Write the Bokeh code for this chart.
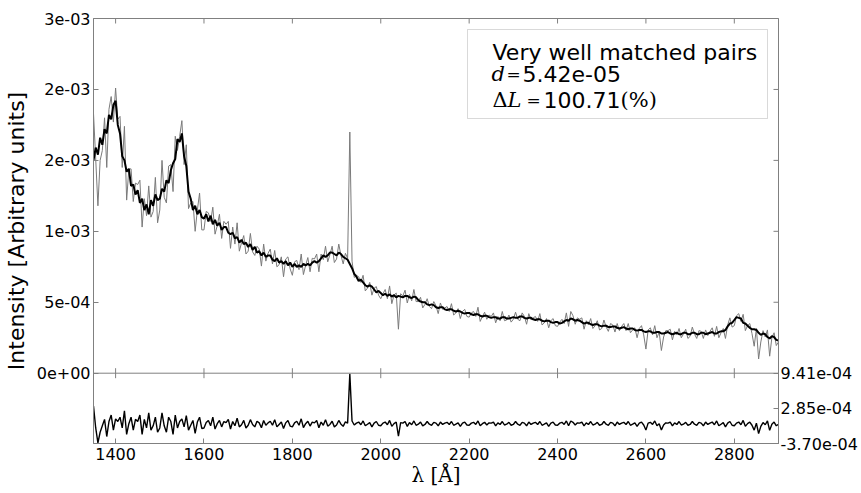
import math
from bokeh.plotting import figure
from bokeh.models import (Range1d, LinearAxis, FixedTicker, CustomJSTickFormatter,
                          Span, BoxAnnotation, Label, ColumnDataSource)
from bokeh.embed import file_html
from bokeh.resources import INLINE

# ---------------- data (flux in units of 1e-4), sampled every 5 Angstrom ----------------
flux_unit = 1e-4
wavelength = list(range(1350, 2901, 5))

black_flux = [
    15.0, 15.9, 15.4, 16.6, 16.1, 17.2, 16.9, 18.2, 17.9, 18.9,
    19.2, 17.5, 16.9, 15.3, 15.0, 14.2, 14.4, 13.2, 13.3, 12.6,
    12.9, 12.0, 12.3, 11.5, 11.9, 11.2, 12.2, 11.8, 12.6, 12.2,
    12.3, 13.0, 12.8, 13.6, 13.4, 14.3, 14.8, 15.1, 16.5, 16.3,
    16.9, 15.3, 14.6, 12.8, 12.3, 11.5, 11.8, 11.2, 11.5, 11.0,
    10.9, 11.2, 10.7, 11.1, 10.5, 10.8, 10.4, 10.6, 10.1, 10.3,
    10.3, 9.9, 9.8, 9.9, 9.5, 9.6, 9.2, 9.4, 9.1, 9.2,
    8.9, 9.1, 8.7, 8.9, 8.5, 8.6, 8.3, 8.5, 8.2, 8.3,
    8.3, 8.0, 7.9, 8.1, 7.8, 7.9, 7.7, 7.9, 7.6, 7.8,
    7.5, 7.7, 7.5, 7.6, 7.5, 7.7, 7.6, 7.7, 7.6, 7.8,
    7.9, 7.8, 7.9, 8.1, 8.3, 8.2, 8.3, 8.5, 8.5, 8.4,
    8.3, 8.5, 8.4, 8.2, 8.1, 8.0, 7.7, 7.4, 7.0, 6.8,
    6.5, 6.6, 6.4, 6.2, 6.1, 6.2, 6.1, 5.9, 5.7, 5.8,
    5.65, 5.5, 5.6, 5.45, 5.55, 5.4, 5.5, 5.35, 5.45, 5.4,
    5.35, 5.45, 5.45, 5.35, 5.3, 5.4, 5.35, 5.15, 5.05, 5.0,
    5.0, 4.85, 4.8, 4.85, 4.8, 4.65, 4.6, 4.65, 4.65, 4.5,
    4.45, 4.5, 4.5, 4.4, 4.35, 4.4, 4.35, 4.25, 4.2, 4.25,
    4.25, 4.15, 4.1, 4.15, 4.15, 4.05, 4.0, 4.05, 4.05, 3.95,
    3.9, 3.95, 3.95, 3.85, 3.85, 3.95, 3.95, 3.85, 3.85, 3.9,
    3.95, 3.9, 3.9, 4.0, 4.0, 3.9, 3.85, 3.9, 3.9, 3.8,
    3.75, 3.8, 3.8, 3.7, 3.65, 3.7, 3.7, 3.6, 3.55, 3.6,
    3.6, 3.5, 3.55, 3.65, 3.75, 3.7, 3.85, 3.8, 3.7, 3.75,
    3.7, 3.6, 3.5, 3.55, 3.55, 3.45, 3.4, 3.45, 3.45, 3.35,
    3.3, 3.35, 3.35, 3.25, 3.25, 3.3, 3.3, 3.2, 3.15, 3.2,
    3.25, 3.15, 3.1, 3.15, 3.15, 3.05, 3.0, 3.05, 3.05, 2.95,
    2.9, 2.95, 2.95, 2.85, 2.85, 2.9, 2.9, 2.8, 2.8, 2.85,
    2.9, 2.8, 2.75, 2.8, 2.85, 2.75, 2.75, 2.85, 2.85, 2.75,
    2.75, 2.85, 2.85, 2.75, 2.75, 2.85, 2.85, 2.75, 2.8, 2.85,
    2.9, 2.8, 2.8, 2.9, 2.95, 2.95, 3.05, 3.3, 3.5, 3.55,
    3.75, 3.95, 3.9, 3.85, 3.55, 3.5, 3.35, 3.2, 3.1, 3.1,
    3.05, 2.85, 2.7, 2.8, 2.75, 2.55, 2.45, 2.6, 2.55, 2.35,
    2.3,
]

gray_flux = [
    18.3, 15.1, 11.8, 15.0, 15.7, 18.0, 14.5, 18.6, 19.5, 17.7,
    20.1, 17.9, 18.1, 14.5, 17.4, 12.2, 14.4, 14.4, 12.1, 13.4,
    13.3, 13.6, 10.3, 12.3, 11.1, 13.2, 11.0, 11.4, 13.8, 10.6,
    11.5, 15.0, 12.4, 12.0, 14.6, 14.7, 12.8, 16.7, 15.7, 16.7,
    17.8, 14.7, 16.1, 11.6, 12.0, 12.1, 10.0, 11.5, 12.7, 10.1,
    10.1, 11.4, 11.3, 10.7, 11.7, 9.8, 10.4, 11.2, 9.5, 10.7,
    10.5, 10.7, 8.8, 10.3, 9.1, 10.6, 8.6, 9.2, 9.7, 8.4,
    8.6, 9.85, 8.55, 8.3, 8.95, 8.75, 7.55, 9.1, 7.9, 8.45,
    8.75, 7.7, 8.65, 7.5, 7.65, 8.2, 6.8, 8.05, 8.2, 7.35,
    6.9, 7.85, 7.95, 7.3, 8.4, 6.95, 7.6, 8.15, 7.15, 8.1,
    8.05, 8.4, 7.15, 8.4, 8.0, 8.95, 7.85, 8.35, 8.95, 7.8,
    8.05, 9.1, 8.3, 7.7, 8.45, 8.1, 17.0, 7.9, 6.75, 6.9,
    6.8, 6.4, 6.9, 5.8, 6.0, 6.4, 5.5, 6.0, 6.1, 5.5,
    5.25, 5.6, 5.9, 5.25, 6.15, 4.9, 5.5, 5.65, 3.1, 5.6,
    5.45, 5.85, 4.95, 5.55, 5.1, 5.9, 5.05, 5.05, 5.35, 4.6,
    4.85, 5.25, 4.7, 4.55, 5.05, 4.75, 4.2, 4.95, 4.5, 4.6,
    4.7, 4.35, 4.9, 4.1, 4.25, 4.55, 3.85, 4.35, 4.5, 4.0,
    3.95, 4.25, 4.35, 4.0, 4.65, 3.65, 4.0, 4.3, 3.8, 4.1,
    4.0, 4.25, 3.55, 4.0, 3.7, 4.35, 3.7, 3.75, 4.1, 3.6,
    3.8, 4.3, 3.8, 3.7, 4.25, 4.0, 3.45, 4.2, 3.75, 3.9,
    4.0, 3.65, 4.2, 3.4, 3.55, 3.85, 3.2, 3.7, 3.85, 3.35,
    3.3, 3.6, 3.8, 3.5, 4.25, 3.3, 4.35, 4.05, 3.45, 3.9,
    3.8, 3.9, 3.1, 3.7, 3.4, 3.85, 3.15, 3.35, 3.7, 3.05,
    3.15, 3.75, 3.25, 2.95, 3.5, 3.4, 2.9, 3.5, 3.0, 3.3,
    3.5, 3.0, 3.5, 2.85, 3.05, 3.2, 2.5, 3.15, 3.35, 2.7,
    1.7, 3.05, 3.2, 2.7, 3.35, 2.5, 2.9, 1.6, 2.55, 3.0,
    3.0, 3.1, 2.35, 2.95, 2.7, 3.15, 2.5, 2.75, 3.1, 2.45,
    2.6, 3.25, 2.75, 2.45, 3.0, 2.95, 2.45, 3.05, 2.65, 2.95,
    3.2, 2.6, 3.3, 2.5, 2.85, 3.15, 2.45, 3.4, 3.9, 3.25,
    3.35, 4.05, 4.2, 3.65, 4.15, 3.0, 3.35, 3.5, 2.8, 1.9,
    3.15, 1.0, 2.2, 3.0, 2.55, 3.05, 1.2, 2.5, 2.85, 1.95,
    2.2,
]

x_ticks = [1400, 1600, 1800, 2000, 2200, 2400, 2600, 2800]
y_ticks = [0.0, 5e-4, 1e-3, 1.5e-3, 2e-3, 2.5e-3]
y_tick_labels = ["0e+00", "5e-04", "1e-03", "2e-03", "2e-03", "3e-03"]
resid_ticks = [-3.70e-4, 2.85e-4, 9.41e-4]
resid_tick_labels = ["-3.70e-04", "2.85e-04", "9.41e-04"]

legend_title = "Very well matched pairs"
d_value = "5.42e-05"
dl_value = "100.71"

# ---------------- derived series ----------------
black_y = [v * flux_unit for v in black_flux]
gray_y = [v * flux_unit for v in gray_flux]
resid_y = [(g - b) * flux_unit for g, b in zip(gray_flux, black_flux)]

# ---------------- layout geometry ----------------
W, H = 861, 493
FL, FR, FT, FB = 93, 778, 18, 443       # frame edges in px
SEP = 372.7                             # separator between panels (px)
X0, X1 = 1350, 2900
Y1 = 2.5e-3
Y0 = -Y1 * (FB - SEP) / (SEP - FT)
R0, RTOP = resid_ticks[0], resid_ticks[-1]
R1 = RTOP + (SEP - FT) * (RTOP - R0) / (FB - SEP)

GRAY = "#808080"
SANS = "DejaVu Sans"
SERIF = "DejaVu Serif"


def px_x(px):
    return X0 + (px - FL) * (X1 - X0) / (FR - FL)


def px_y(py):
    return Y1 - (py - FT) * (Y1 - Y0) / (FB - FT)


p = figure(width=W, height=H, output_backend="svg", toolbar_location=None,
           x_range=Range1d(X0, X1), y_range=Range1d(Y0, Y1),
           min_border_left=FL, min_border_right=W - FR,
           min_border_top=FT, min_border_bottom=H - FB)
p.extra_y_ranges = {"resid": Range1d(R0, R1)}
p.grid.visible = False
p.outline_line_color = GRAY
p.outline_line_width = 1
p.background_fill_color = "white"
p.border_fill_color = "white"

src = ColumnDataSource(dict(x=wavelength, gray=gray_y, black=black_y, resid=resid_y))
p.line("x", "gray", source=src, line_color="#7a7a7a", line_width=1)
p.line("x", "black", source=src, line_color="black", line_width=2)
p.line("x", "resid", source=src, y_range_name="resid", line_color="black", line_width=1.4)

p.add_layout(Span(location=0, dimension="width", line_color=GRAY, line_width=1))

# inward tick marks on the top edge, on the panel separator and on the right edge of the main panel
p.scatter(x=x_ticks, y=[Y1] * len(x_ticks), marker="dash", angle=math.pi / 2, size=10,
          line_color=GRAY, line_width=1)
p.scatter(x=x_ticks, y=[0.0] * len(x_ticks), marker="dash", angle=math.pi / 2, size=10,
          line_color=GRAY, line_width=1)
p.scatter(x=[X1] * (len(y_ticks) - 2), y=y_ticks[1:-1], marker="dash", size=10,
          line_color=GRAY, line_width=1)

lookup_code = """
let best = 0;
for (let i = 0; i < vals.length; i++) {
  if (Math.abs(vals[i] - tick) < Math.abs(vals[best] - tick)) best = i;
}
return labels[best];
"""

# bottom x axis
xa = p.xaxis[0]
xa.ticker = FixedTicker(ticks=x_ticks)
xa.major_tick_in = 5
xa.major_tick_out = 0
xa.minor_tick_line_color = None
xa.axis_line_color = GRAY
xa.major_tick_line_color = GRAY
xa.major_label_text_font = SANS
xa.major_label_text_font_size = "16px"
xa.major_label_text_color = "black"
xa.major_label_standoff = 4
xa.axis_label = "λ [Å]"
xa.axis_label_text_font = SERIF
xa.axis_label_text_font_style = "normal"
xa.axis_label_text_font_size = "20px"
xa.axis_label_text_color = "black"
xa.axis_label_standoff = 0

# left y axis (main panel)
ya = p.yaxis[0]
ya.ticker = FixedTicker(ticks=y_ticks)
ya.formatter = CustomJSTickFormatter(args=dict(vals=y_ticks, labels=y_tick_labels), code=lookup_code)
ya.major_tick_in = 5
ya.major_tick_out = 0
ya.minor_tick_line_color = None
ya.axis_line_color = GRAY
ya.major_tick_line_color = GRAY
ya.major_label_text_font = SANS
ya.major_label_text_font_size = "16px"
ya.major_label_text_color = "black"
ya.major_label_standoff = 3
ya.axis_label = "Intensity [Arbitrary units]"
ya.axis_label_text_font = SANS
ya.axis_label_text_font_style = "normal"
ya.axis_label_text_font_size = "22px"
ya.axis_label_text_color = "black"
ya.axis_label_standoff = 5

# right axis (residual panel)
ra = LinearAxis(y_range_name="resid", ticker=FixedTicker(ticks=resid_ticks),
                formatter=CustomJSTickFormatter(args=dict(vals=resid_ticks, labels=resid_tick_labels),
                                                code=lookup_code))
ra.major_tick_in = 5
ra.major_tick_out = 0
ra.minor_tick_line_color = None
ra.axis_line_color = GRAY
ra.major_tick_line_color = GRAY
ra.major_label_text_font = SANS
ra.major_label_text_font_size = "16px"
ra.major_label_text_color = "black"
ra.major_label_standoff = 2
p.add_layout(ra, "right")

# legend-like box
p.add_layout(BoxAnnotation(left=px_x(467), right=px_x(767), top=px_y(29), bottom=px_y(118),
                           fill_color="white", fill_alpha=1.0, line_color=GRAY, line_width=1))


def add_text(px, py, text, font=SANS, size="22px", style="normal", align="left"):
    p.add_layout(Label(x=px_x(px), y=px_y(py), text=text, text_font=font, text_font_size=size,
                       text_font_style=style, text_align=align, text_baseline="alphabetic",
                       text_color="black"))


add_text(492, 52, legend_title)
add_text(491, 73, "d", font=SERIF, size="21px", style="italic")
add_text(513, 73, "=", font=SERIF, size="17px", align="center")
add_text(522, 73, d_value)
add_text(492, 99, "Δ", font=SERIF, size="21px")
add_text(507, 99, "L", font=SERIF, size="21px", style="italic")
add_text(533, 99, "=", font=SERIF, size="17px", align="center")
add_text(543, 99, dl_value)
add_text(620, 99, "(%)", font=SERIF, size="21px")

open("out.html", "w").write(file_html(p, INLINE))
